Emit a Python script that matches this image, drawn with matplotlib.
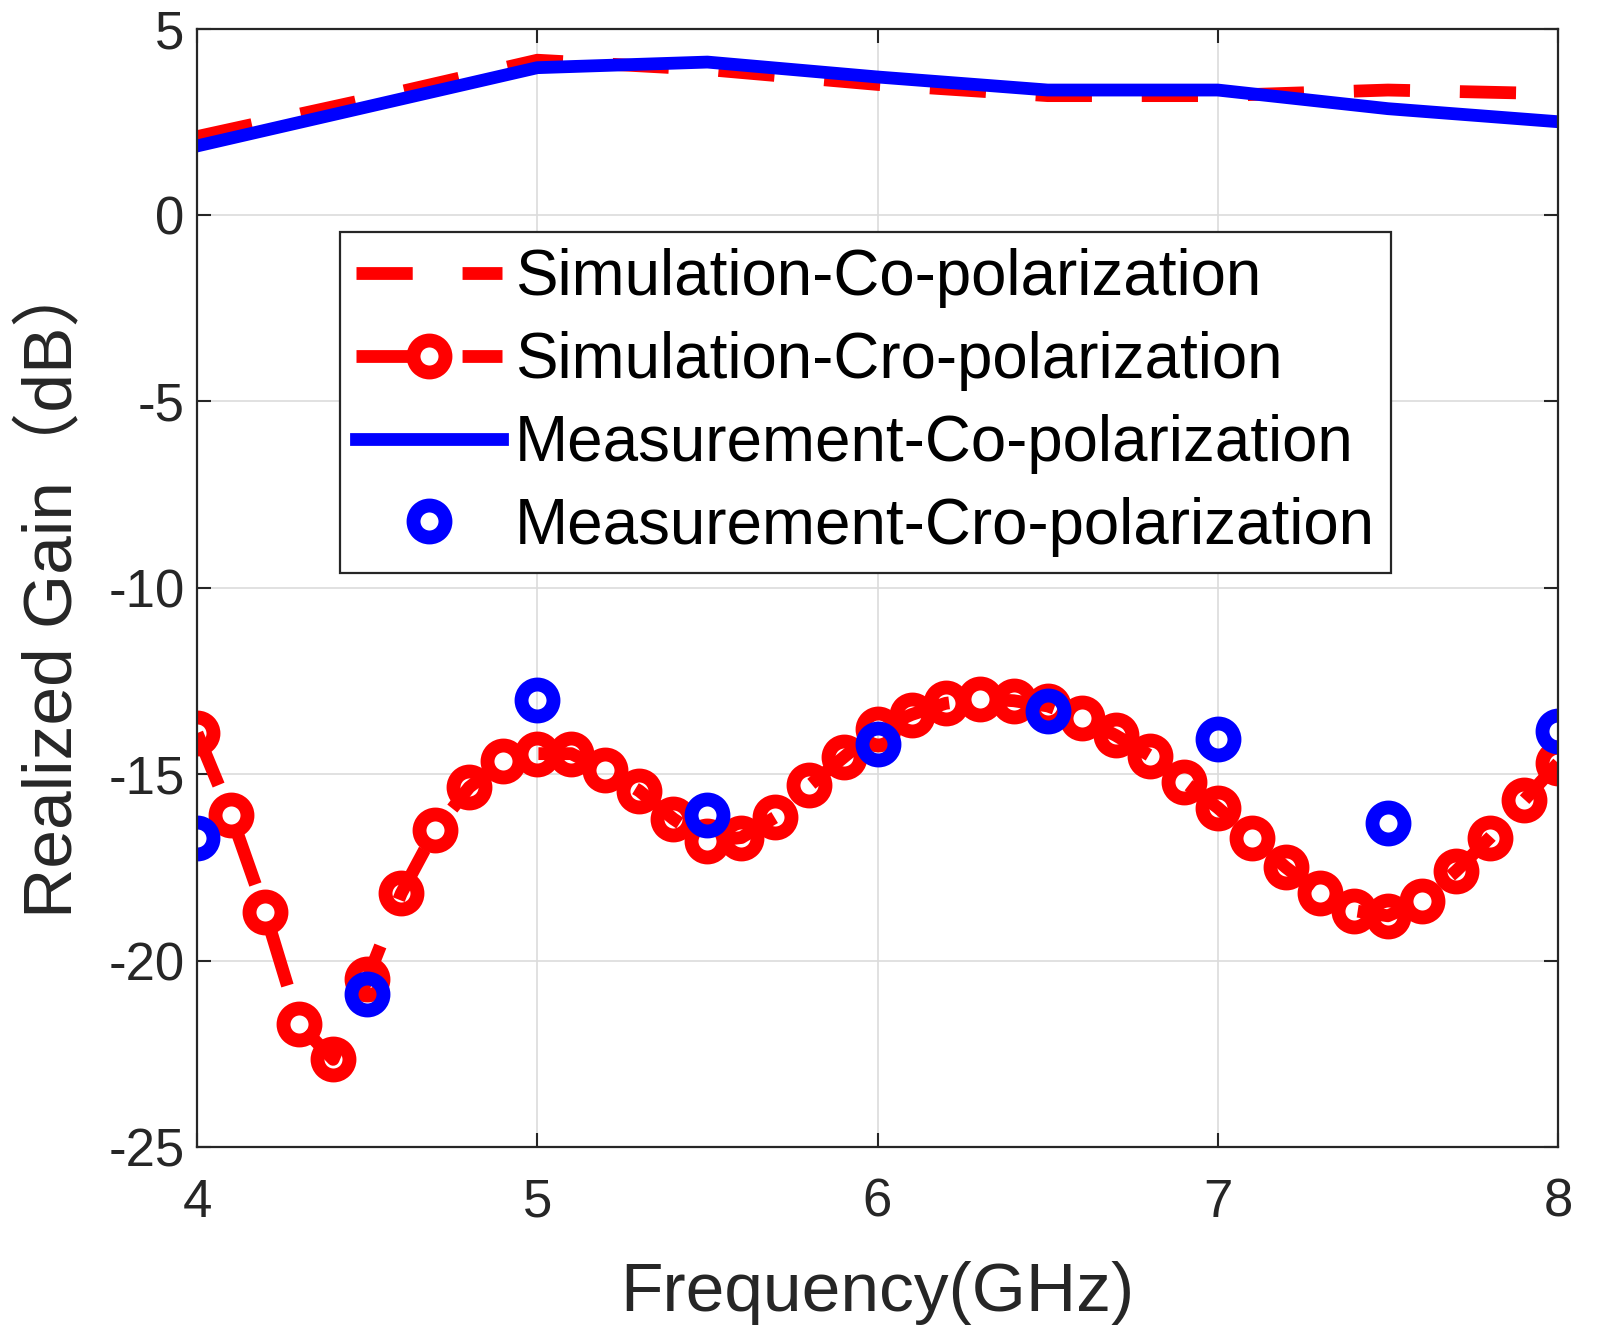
import numpy as np
import matplotlib
matplotlib.use('Agg')
from matplotlib import pyplot as plt

plt.rcParams['font.family'] = ['Liberation Sans', 'Noto Sans CJK SC', 'DejaVu Sans']
plt.rcParams['axes.unicode_minus'] = False

# ---- data ----
freq_co = [4.0, 4.5, 5.0, 5.5, 6.0, 6.5, 7.0, 7.5, 8.0]
sim_co = [2.1, 3.1, 4.15, 3.9, 3.5, 3.2, 3.2, 3.35, 3.25]
meas_co = [1.85, 2.9, 3.95, 4.1, 3.7, 3.35, 3.35, 2.85, 2.5]

freq_sim_x = [4.0, 4.1, 4.2, 4.3, 4.4, 4.5, 4.6, 4.7, 4.8, 4.9,
              5.0, 5.1, 5.2, 5.3, 5.4, 5.5, 5.6, 5.7, 5.8, 5.9,
              6.0, 6.1, 6.2, 6.3, 6.4, 6.5, 6.6, 6.7, 6.8, 6.9,
              7.0, 7.1, 7.2, 7.3, 7.4, 7.5, 7.6, 7.7, 7.8, 7.9, 8.0]
sim_x = [-13.9, -16.1, -18.7, -21.7, -22.65, -20.5, -18.2, -16.5, -15.35, -14.65,
         -14.45, -14.45, -14.9, -15.45, -16.2, -16.8, -16.7, -16.15, -15.3, -14.55,
         -13.8, -13.4, -13.1, -12.98, -13.03, -13.17, -13.5, -13.96, -14.5, -15.2,
         -15.9, -16.7, -17.5, -18.2, -18.66, -18.8, -18.4, -17.6, -16.7, -15.7, -14.7]

freq_meas_x = [4.0, 4.5, 5.0, 5.5, 6.0, 6.5, 7.0, 7.5, 8.0]
meas_x = [-16.7, -20.9, -13.0, -16.1, -14.2, -13.3, -14.05, -16.3, -13.85]

labels = ['Simulation-Co-polarization', 'Simulation-Cro-polarization',
          'Measurement-Co-polarization', 'Measurement-Cro-polarization']

# ---- figure ----
fig = plt.figure(figsize=(15.98, 13.39), dpi=100)
ax = fig.add_axes([0.1233, 0.1434, 0.8517, 0.8353])

lw = 9.2
dash = (4.4, 3.9)
ax.plot(freq_co, sim_co, color='r', linewidth=lw, dashes=dash, label=labels[0])
ax.plot(freq_sim_x, sim_x, color='r', linewidth=lw, dashes=dash, marker='o',
        markersize=23, markeredgewidth=10, markerfacecolor='none', label=labels[1])
ax.plot(freq_co, meas_co, color='b', linewidth=lw, linestyle='-', label=labels[2])
ax.plot(freq_meas_x, meas_x, color='b', linestyle='none', marker='o',
        markersize=23, markeredgewidth=10, markerfacecolor='none', label=labels[3])

ax.set_xlim(4, 8)
ax.set_ylim(-25, 5)
ax.set_xticks([4, 5, 6, 7, 8])
ax.set_yticks([-25, -20, -15, -10, -5, 0, 5])
ax.grid(True, color='#dcdcdc', linewidth=1.2)
ax.set_axisbelow(True)
ax.tick_params(direction='in', length=10, width=1.5, top=True, right=True,
               labelsize=38, colors='#262626')
ax.tick_params(axis='x', pad=22)
ax.tick_params(axis='y', pad=9)
for s in ax.spines.values():
    s.set_linewidth(1.6)
    s.set_color('#262626')

ax.set_xlabel('Frequency(GHz)', fontsize=50, color='#262626')
ax.set_ylabel('Realized Gain（dB）', fontsize=50, color='#262626')
ax.xaxis.set_label_coords(0.5, -0.1015)
ax.yaxis.set_label_coords(-0.081, 0.5)

leg = ax.legend(loc='upper left', bbox_to_anchor=(0.105, 0.818), fontsize=45.8,
                fancybox=False, edgecolor='#262626', framealpha=1,
                handlelength=2.3, handletextpad=0.2, labelspacing=0.36,
                borderpad=0.25, borderaxespad=0, numpoints=1)
leg.get_frame().set_linewidth(1.6)

fig.savefig('out.png', dpi=100)
